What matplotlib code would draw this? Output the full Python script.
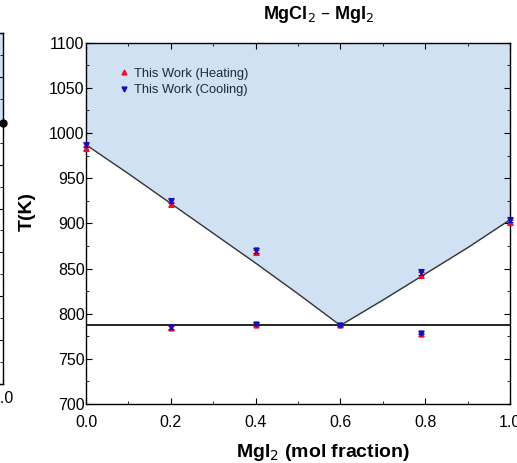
import matplotlib as mpl
mpl.use("Agg")
import matplotlib.pyplot as plt
from matplotlib.ticker import MultipleLocator
from matplotlib.lines import Line2D

# calculated liquidus
LIQ_X = [0.0, 0.1, 0.2, 0.3, 0.4, 0.5, 0.6, 0.7, 0.8, 0.9, 1.0]
LIQ_T = [987, 955, 922, 889, 856, 822, 787, 815, 844, 873, 904]
EUTECTIC_T = 787

# measured points
HEAT_X = [0.0, 0.2, 0.4, 0.6, 0.79, 1.0, 0.2, 0.4, 0.79]
HEAT_T = [983, 921, 868, 787, 843, 901, 784, 788, 777]
COOL_X = [0.0, 0.2, 0.4, 0.6, 0.79, 1.0, 0.2, 0.4, 0.79]
COOL_T = [987, 925, 870, 788, 846, 904, 785, 789, 779]
ERR_T = [3, 3, 3, 2, 3, 3, 2, 2, 2]

# sliver of the neighbouring panel on the left edge
FRAG_DOT_T = 998

FILL = "#cfe1f2"

plt.rcParams.update({
    "font.family": ["Liberation Sans", "DejaVu Sans"],
    "font.size": 11.5,
    "xtick.direction": "in",
    "ytick.direction": "in",
    "axes.linewidth": 1.0,
})

fig = plt.figure(figsize=(5.17, 4.63), dpi=100)
W, H = 517, 463

# neighbouring panel fragment
ax0 = fig.add_axes([(2.5 - 200) / W, 1 - 384 / H, 200 / W, (384 - 33) / H])
ax0.set_xlim(0, 1)
ax0.set_ylim(700, 1100)
ax0.fill_between([0, 1], FRAG_DOT_T, 1100, color=FILL, lw=0)
ax0.plot([1.0], [FRAG_DOT_T], "o", color="black", ms=5, clip_on=False, zorder=5)
ax0.set_xticks([1.0])
ax0.set_xticklabels(["1.0"])
ax0.yaxis.set_major_locator(MultipleLocator(50))
ax0.yaxis.set_minor_locator(MultipleLocator(25))
ax0.tick_params(axis="y", right=True, left=False, labelleft=False, which="both")
ax0.tick_params(axis="x", pad=5)

# main panel
ax = fig.add_axes([86 / W, 1 - 404 / H, (510 - 86) / W, (404 - 42.7) / H])
ax.fill_between(LIQ_X, LIQ_T, 1100, color=FILL, lw=0, zorder=0)
ax.plot(LIQ_X, LIQ_T, color="#333333", lw=1.0, zorder=2)
ax.axhline(EUTECTIC_T, color="black", lw=1.2, zorder=2)

ax.errorbar(HEAT_X, HEAT_T, yerr=ERR_T, fmt="^", color="#e8102a", ms=3.5,
            capsize=2, elinewidth=0.8, capthick=0.8, zorder=3, clip_on=False)
ax.errorbar(COOL_X, COOL_T, yerr=ERR_T, fmt="v", color="#1010c0", ms=3.5,
            capsize=2, elinewidth=0.8, capthick=0.8, zorder=4, clip_on=False)

ax.set_xlim(0, 1)
ax.set_ylim(700, 1100)
ax.xaxis.set_major_locator(MultipleLocator(0.2))
ax.xaxis.set_minor_locator(MultipleLocator(0.1))
ax.yaxis.set_major_locator(MultipleLocator(50))
ax.yaxis.set_minor_locator(MultipleLocator(25))
ax.xaxis.set_major_formatter(mpl.ticker.FormatStrFormatter("%.1f"))
ax.tick_params(which="both", top=True, right=True, labelsize=11.5)
ax.tick_params(which="major", length=4)
ax.tick_params(which="minor", length=2.5)
ax.tick_params(axis="x", pad=8)
ax.tick_params(axis="y", pad=1)

ax.set_xlabel(r"MgI$_2$ (mol fraction)", fontsize=14, fontweight="bold")
ax.xaxis.set_label_coords(0.56, -0.105)
ax.set_ylabel("T(K)", fontsize=14, fontweight="bold")
ax.yaxis.set_label_coords(-0.118, 0.532)
ax.text(0.55, 1.077, r"MgCl$_2$ – MgI$_2$", transform=ax.transAxes,
        ha="center", va="center", fontsize=13, fontweight="bold")

handles = [
    Line2D([0], [0], ls="none", marker="^", color="#e8102a", ms=3.5,
           label="This Work (Heating)"),
    Line2D([0], [0], ls="none", marker="v", color="#1010c0", ms=3.5,
           label="This Work (Cooling)"),
]
leg = ax.legend(handles=handles, loc="upper left", bbox_to_anchor=(0.065, 0.945),
                frameon=False, fontsize=9.3, handlelength=0.8, handletextpad=0.4,
                labelspacing=0.35, borderaxespad=0)
for t in leg.get_texts():
    t.set_color("#1c2a3c")

fig.savefig("out.png", dpi=100)
